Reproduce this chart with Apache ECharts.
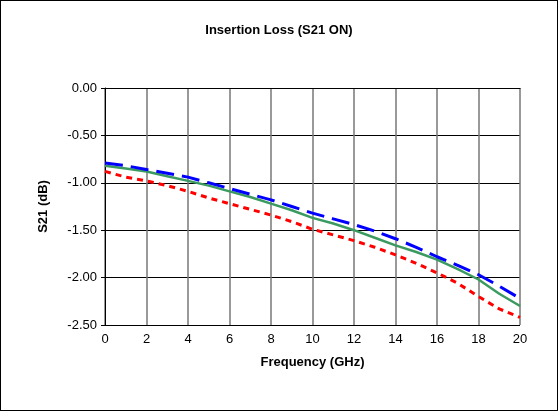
<!DOCTYPE html>
<html>
<head>
<meta charset="UTF-8">
<script src="https://cdn.jsdelivr.net/npm/echarts@6/dist/echarts.min.js"></script>
<style>
body{margin:0}
#main{width:556px;height:409px;border:1px solid #000}
</style>
</head>
<body>
<div id="main"></div>
<script>
var freq = [0,1,2,3,4,5,6,7,8,9,10,11,12,13,14,15,16,17,18,19,20];
var blue = [-0.79,-0.82,-0.86,-0.90,-0.94,-1.00,-1.06,-1.12,-1.18,-1.25,-1.32,-1.38,-1.44,-1.51,-1.59,-1.68,-1.78,-1.87,-1.97,-2.09,-2.22];
var green = [-0.82,-0.85,-0.88,-0.93,-0.98,-1.03,-1.09,-1.15,-1.22,-1.29,-1.37,-1.43,-1.50,-1.58,-1.66,-1.73,-1.81,-1.91,-2.02,-2.17,-2.30];
var red = [-0.88,-0.94,-0.98,-1.03,-1.09,-1.16,-1.22,-1.28,-1.34,-1.41,-1.49,-1.55,-1.61,-1.68,-1.76,-1.85,-1.95,-2.06,-2.20,-2.33,-2.42];
function pts(a){return freq.map(function(f,i){return [f,a[i]];});}
var chart = echarts.init(document.getElementById('main'));
chart.setOption({
  animation:false,
  title:{text:'Insertion Loss (S21 ON)',left:'center',top:18,textStyle:{fontFamily:'Arial',fontSize:13,fontWeight:'bold',color:'#000'}},
  grid:{left:104,right:37,top:87,bottom:85},
  xAxis:{type:'value',min:0,max:20,interval:2,name:'Frequency (GHz)',nameLocation:'middle',nameGap:31,
    nameTextStyle:{fontFamily:'Arial',fontSize:13,fontWeight:'bold',color:'#000'},
    axisLine:{lineStyle:{color:'#000'}},axisTick:{show:false},
    axisLabel:{fontFamily:'Arial',fontSize:13,color:'#000',margin:8},
    splitLine:{lineStyle:{color:'#777',width:1.5}}},
  yAxis:{type:'value',min:-2.5,max:0,interval:0.5,name:'S21 (dB)',nameLocation:'middle',nameGap:55,
    nameTextStyle:{fontFamily:'Arial',fontSize:13,fontWeight:'bold',color:'#000'},
    axisLine:{show:true,lineStyle:{color:'#000'}},axisTick:{show:true,length:4,lineStyle:{color:'#000'}},
    axisLabel:{fontFamily:'Arial',fontSize:13,color:'#000',formatter:function(v){return v.toFixed(2);}},
    splitLine:{lineStyle:{color:'#000',width:1}}},
  series:[
    {type:'line',data:pts(green),symbol:'none',lineStyle:{color:'#3a9a60',width:2.5}},
    {type:'line',data:pts(red),symbol:'none',lineStyle:{color:'#ff0000',width:3,type:[6,5]}},
    {type:'line',data:pts(blue),symbol:'none',lineStyle:{color:'#0000ff',width:3,type:[18,8]}}
  ]
});
</script>
</body>
</html>
